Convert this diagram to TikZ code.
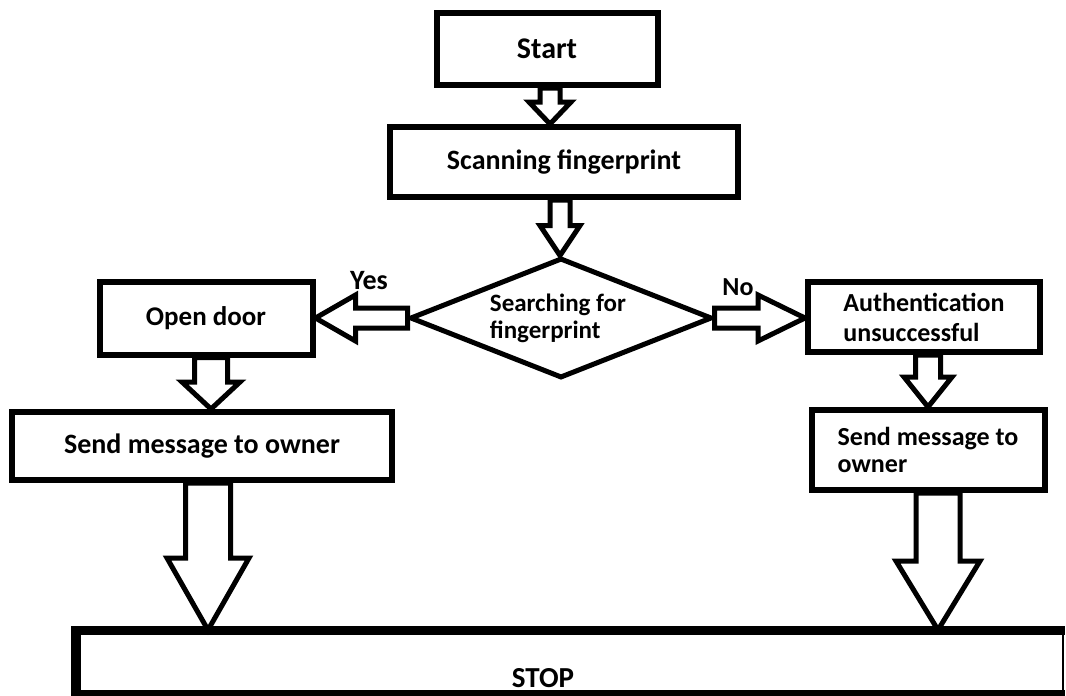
\documentclass[tikz,border=0pt]{standalone}
\usepackage{fontspec}
\setmainfont{Carlito}
\usetikzlibrary{shapes.geometric,calc}
\tikzset{
  box/.style={draw, line width=6pt, rectangle, inner sep=0pt, align=left,
    font=\bfseries\fontsize{27}{30}\selectfont},
  blk/.style={draw, line width=5pt, line join=miter, fill=white},
  lbl/.style={font=\bfseries\fontsize{26}{30}\selectfont, inner sep=0pt, align=left},
}
% vertical block arrow: #1 start, #2 tip, #3 shaft half width, #4 head half width, #5 head length
\newcommand\vblk[5]{%
  \draw[blk] let \p1=(#1), \p2=(#2) in
    (\x1-#3pt,\y1) -- (\x1-#3pt,\y2+#5pt) -- (\x1-#4pt,\y2+#5pt) -- (\x1,\y2)
    -- (\x1+#4pt,\y2+#5pt) -- (\x1+#3pt,\y2+#5pt) -- (\x1+#3pt,\y1) -- cycle;}
% horizontal block arrow: #5 signed head length (positive = pointing left)
\newcommand\hblk[5]{%
  \draw[blk] let \p1=(#1), \p2=(#2) in
    (\x1,\y1-#3pt) -- (\x2+#5pt,\y1-#3pt) -- (\x2+#5pt,\y1-#4pt) -- (\x2,\y1)
    -- (\x2+#5pt,\y1+#4pt) -- (\x2+#5pt,\y1+#3pt) -- (\x1,\y1+#3pt) -- cycle;}
\begin{document}
\begin{tikzpicture}[x=1pt,y=-1pt]
\useasboundingbox (0,0) rectangle (1066,696);
\node[box, minimum width=221pt, minimum height=72pt, font=\bfseries\fontsize{30}{32}\selectfont] (start) at (547,49) {Start};
\node[box, minimum width=348pt, minimum height=70pt, font=\bfseries\fontsize{28}{30}\selectfont] (scan) at (564,162) {Scanning fingerprint};
\node[draw, diamond, line width=5pt, minimum width=302pt, minimum height=120pt, inner sep=0pt, aspect=2.5] (diam) at (561,318) {};
\node[lbl, font=\bfseries\fontsize{25}{27}\selectfont] (dtext) at (558,318) {Searching for\\fingerprint};
\node[box, minimum width=213pt, minimum height=73pt] (open) at (206,318) {Open door};
\node[box, minimum width=380pt, minimum height=68pt, font=\bfseries\fontsize{28}{30}\selectfont] (sendL) at (202,446) {Send message to owner};
\node[box, minimum width=232pt, minimum height=70pt, font=\bfseries\fontsize{26}{30}\selectfont] (auth) at (924,317) {Authentication\\unsuccessful};
\node[box, minimum width=233pt, minimum height=80pt, font=\bfseries\fontsize{26}{27}\selectfont] (sendR) at (928,450) {Send message to\\owner};
\node[draw, line width=2pt, rectangle, inner sep=0pt, minimum width=986pt, minimum height=62pt] (stop) at (570,662) {};
\draw[line width=9pt] ($(stop.north west)+(-5,0)$) -- ($(stop.north east)+(1,0)$);
\draw[line width=10pt] ($(stop.north west)+(0,-4)$) -- ($(stop.south west)+(0,4)$);
\draw[line width=8pt] ($(stop.south west)+(-5,0)$) -- ($(stop.south east)+(1,0)$);
\node[lbl, font=\bfseries\fontsize{29}{30}\selectfont] (stoptext) at (543,678) {STOP};
\node[lbl, font=\bfseries\fontsize{28}{30}\selectfont] (yes) at (369,281) {Yes};
\node[lbl] (no) at (738,287) {No};
\vblk{$(start.south)+(3,0)$}{scan.north}{10}{21}{22}
\vblk{$(scan.south)+(-4,0)$}{diam.north}{10}{20}{30}
\hblk{diam.west}{open.east}{10}{23}{40}
\hblk{diam.east}{auth.west}{10}{23}{-47}
\vblk{$(open.south)+(5,0)$}{sendL.north}{16.5}{29}{27}
\vblk{$(auth.south)+(4,0)$}{sendR.north}{12.5}{24}{30}
\vblk{$(sendL.south)+(6,0)$}{stop.north}{22.5}{41}{72}
\vblk{$(sendR.south)+(10,0)$}{stop.north}{22}{42}{69}
\end{tikzpicture}
\end{document}
